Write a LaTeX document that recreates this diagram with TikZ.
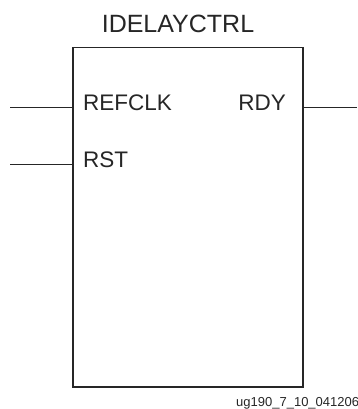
\documentclass[tikz,border=0pt]{standalone}
\usepackage{fontspec}
\setmainfont{Liberation Sans}
\begin{document}
\begin{tikzpicture}[x=1pt,y=1pt,
  blockbox/.style={draw=black!85,line width=1.8pt,rectangle,minimum width=230.3pt,minimum height=339.5pt,inner sep=0pt},
  pinlabel/.style={inner sep=0pt,font=\fontsize{22.5}{24}\selectfont,text=black!85},
  sigline/.style={draw=black!85,line width=0.9pt}]
\useasboundingbox (0,0) rectangle (357,409);
\clip (0,0) rectangle (357,409);
\node[blockbox] (box) at (187.9,191.75) {};
\node[inner sep=0pt,anchor=base,font=\fontsize{25}{27}\selectfont,text=black!85] (title) at (178,376) {IDELAYCTRL};
\node[pinlabel,anchor=base west] (refclk) at (83,298) {REFCLK};
\node[pinlabel,anchor=base east] (rdy) at (286,298) {RDY};
\node[pinlabel,anchor=base west] (rst) at (83,241) {RST};
\coordinate (refclkin) at (10,302);
\coordinate (rstin) at (10,245);
\coordinate (rdyout) at (356.7,302);
\draw[sigline] (refclkin) -- (refclkin -| box.west);
\draw[sigline] (rstin) -- (rstin -| box.west);
\draw[sigline] (rdyout) -- (rdyout -| box.east);
\node[inner sep=0pt,anchor=base west,font=\fontsize{13}{14}\selectfont,text=black!85] (fig) at (236,2) {ug190\_7\_10\_041206};
\end{tikzpicture}
\end{document}
